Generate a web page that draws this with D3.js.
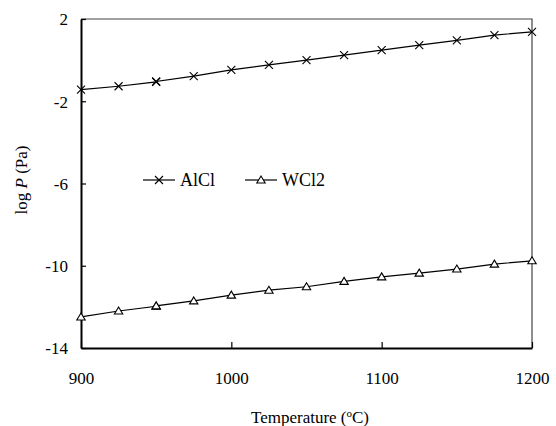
<!DOCTYPE html>
<html>
<head>
<meta charset="utf-8">
<script src="https://cdn.jsdelivr.net/npm/d3@7"></script>
<style>
body { margin: 0; background: #fff; }
svg text { font-family: "Liberation Serif", "DejaVu Serif", serif; fill: #000; }
</style>
</head>
<body>
<svg width="556" height="426"></svg>
<script>
// temperatures (oC), 950 appears twice in the source
var temps = [900, 925, 950, 950, 975, 1000, 1025, 1050, 1075, 1100, 1125, 1150, 1175, 1200];
var alcl = [-1.43, -1.27, -1.06, -1.04, -0.78, -0.47, -0.23, 0.0, 0.24, 0.49, 0.73, 0.96, 1.22, 1.37];
var wcl2 = [-12.49, -12.2, -11.97, -11.95, -11.71, -11.43, -11.19, -11.02, -10.76, -10.54, -10.36, -10.16, -9.92, -9.76];
var xTicks = [900, 1000, 1100, 1200];
var yTicks = [2, -2, -6, -10, -14];

var margin = {left: 81, top: 19, right: 24, bottom: 78};
var width = 556 - margin.left - margin.right;
var height = 426 - margin.top - margin.bottom;

var svg = d3.select("svg");
var g = svg.append("g")
    .attr("transform", "translate(" + margin.left + "," + margin.top + ")");

var x = d3.scaleLinear().domain([900, 1200]).range([0, width]);
var y = d3.scaleLinear().domain([-14, 2]).range([height, 0]);

// top and right frame
g.append("path")
    .attr("d", "M0,0H" + width + "V" + height)
    .attr("fill", "none")
    .attr("stroke", "#444")
    .attr("stroke-width", 1.2);

var plain = function(d) { return String(d); };

// axes
var xAxis = g.append("g")
    .attr("transform", "translate(0," + height + ")")
    .call(d3.axisBottom(x).tickValues(xTicks).tickSizeInner(-6).tickSizeOuter(0).tickPadding(24).tickFormat(plain));
var yAxis = g.append("g")
    .call(d3.axisLeft(y).tickValues(yTicks).tickSizeInner(-5).tickSizeOuter(0).tickPadding(13).tickFormat(plain));

[xAxis, yAxis].forEach(function(a) {
    a.attr("font-family", null);
    a.select(".domain").attr("stroke", "#000").attr("stroke-width", 2);
    a.selectAll(".tick line").attr("stroke", "#000").attr("stroke-width", 1.2);
    a.selectAll("text").attr("font-size", 17).attr("fill", "#000");
});
yAxis.selectAll("text").attr("dy", "0.35em");

var line = d3.line()
    .x(function(d) { return x(d[0]); })
    .y(function(d) { return y(d[1]); });

var seriesA = temps.map(function(t, i) { return [t, alcl[i]]; });
var seriesW = temps.map(function(t, i) { return [t, wcl2[i]]; });

var crossPath = "M-4,-4L4,4M-4,4L4,-4";
var triPath = "M0,-4L4.2,3L-4.2,3Z";

function drawSeries(data, marker) {
    g.append("path")
        .datum(data)
        .attr("d", line)
        .attr("fill", "none")
        .attr("stroke", "#000")
        .attr("stroke-width", 1.2);
    g.selectAll(null)
        .data(data)
        .enter()
        .append("path")
        .attr("transform", function(d) { return "translate(" + x(d[0]) + "," + y(d[1]) + ")"; })
        .attr("d", marker)
        .attr("fill", "#fff")
        .attr("stroke", "#000")
        .attr("stroke-width", 1.1);
}
drawSeries(seriesA, crossPath);
drawSeries(seriesW, triPath);

// legend
var legend = svg.append("g");
var items = [
    {name: "AlCl", marker: crossPath, x0: 143},
    {name: "WCl2", marker: triPath, x0: 245}
];
items.forEach(function(it) {
    legend.append("line")
        .attr("x1", it.x0).attr("x2", it.x0 + 32)
        .attr("y1", 180).attr("y2", 180)
        .attr("stroke", "#000").attr("stroke-width", 1.2);
    legend.append("path")
        .attr("transform", "translate(" + (it.x0 + 16) + ",180)")
        .attr("d", it.marker)
        .attr("fill", "#fff").attr("stroke", "#000").attr("stroke-width", 1.1);
    legend.append("text")
        .attr("x", it.x0 + 37).attr("y", 186)
        .attr("font-size", 18)
        .text(it.name);
});

// axis titles
var xt = svg.append("text")
    .attr("x", 310).attr("y", 423)
    .attr("text-anchor", "middle")
    .attr("font-size", 17);
xt.append("tspan").text("Temperature (");
xt.append("tspan").attr("baseline-shift", "super").attr("font-size", 11).text("o");
xt.append("tspan").text("C)");

var yt = svg.append("text")
    .attr("transform", "translate(27,180) rotate(-90)")
    .attr("text-anchor", "middle")
    .attr("font-size", 17);
yt.append("tspan").text("log ");
yt.append("tspan").attr("font-style", "italic").text("P");
yt.append("tspan").text(" (Pa)");
</script>
</body>
</html>
